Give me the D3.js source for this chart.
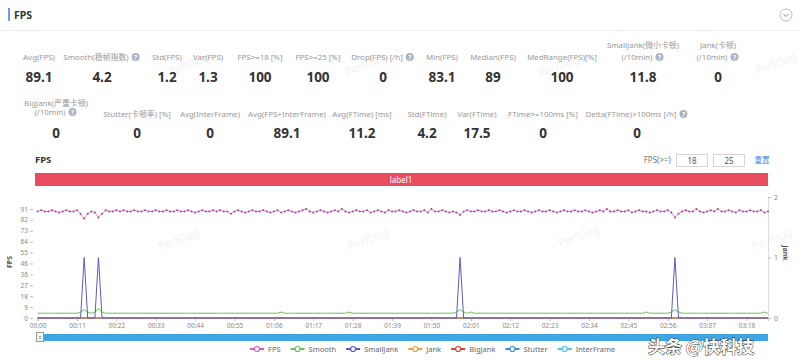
<!DOCTYPE html>
<html><head><meta charset="utf-8">
<script src="https://cdn.jsdelivr.net/npm/d3@7/dist/d3.min.js"></script>
<style>
html,body{margin:0;padding:0;background:#fff;}
svg{display:block;font-family:"Noto Sans","Noto Sans CJK SC",sans-serif;}
</style></head>
<body>
<svg id="c" width="800" height="360"></svg>
<script>
// ---------- DATA ----------
const statLabelsRow1 = ["Avg(FPS)","Smooth(稳帧指数)","Std(FPS)","Var(FPS)","FPS>=18 [%]","FPS>=25 [%]","Drop(FPS) [/h]","Min(FPS)","Median(FPS)","MedRange(FPS)[%]","SmallJank(微小卡顿)|(/10min)","Jank(卡顿)|(/10min)"];
const statValuesRow1 = ["89.1","4.2","1.2","1.3","100","100","0","83.1","89","100","11.8","0"];
const statHelpRow1 = [false,true,false,false,false,false,true,false,false,false,true,true];
const statLabelsRow2 = ["BigJank(严重卡顿)|(/10min)","Stutter(卡顿率) [%]","Avg(InterFrame)","Avg(FPS+InterFrame)","Avg(FTime) [ms]","Std(FTime)","Var(FTime)","FTime>=100ms [%]","Delta(FTime)>100ms [/h]"];
const statValuesRow2 = ["0","0","0","89.1","11.2","4.2","17.5","0","0"];
const statHelpRow2 = [true,false,false,false,false,false,false,false,true];

const xTickSeconds = [0,11,22,33,44,55,66,77,88,99,110,121,132,143,154,165,176,187,198];
const xTickLabels = ["00:00","00:11","00:22","00:33","00:44","00:55","01:06","01:17","01:28","01:39","01:50","02:01","02:12","02:23","02:34","02:45","02:56","03:07","03:18"];
const yLeftTicks = [0,9.1,18.2,27.3,36.4,45.5,54.6,63.7,72.8,81.9,91];
const yLeftLabels = ["0","9","18","27","36","46","55","64","73","82","91"];
const yRightTicks = [0,1,2];

const fps = [
89,90,89,89,90,89,88,89,90,89,
89,90,87,83.1,87,89,88,84,87,90,
89,89,90,89,90,89,89,90,89,89,
90,89,89,90,89,89,90,89,89,90,
89,89,90,89,88,89,90,89,89,90,
89,90,89,89,87,89,90,89,88,89,
90,89,89,90,89,88,89,90,88,89,
90,89,88,89,90,91,89,88,89,90,
89,88,89,90,89,91,89,88,89,90,
89,89,90,88,89,90,89,88,90,89,
89,90,89,88,89,90,89,89,90,88,
91,89,89,90,89,88,89,88,86,89,
90,89,89,90,89,89,90,89,89,90,
89,88,89,90,89,89,90,89,88,89,
90,89,89,90,89,88,89,90,89,89,
90,89,89,90,89,88,89,90,89,91,
89,89,90,89,89,90,88,89,90,89,
89,88,89,90,89,89,90,88,84,87,
89,90,89,89,91,89,88,89,90,89,
91,89,89,90,89,88,90,89,89,90,
89,89,90,88,89];
const smooth = [
4,4,4,4,4,4,4,4,4,4,
4,4,5,7,5,4,5,8,5,4,
4,4,4,4,4,4,4,4,4,4,
4,4,4,4,4,4,4,4,4,4,
4,4,4,4,4,4,4,4,4,4,
4,4,4,4,4,4,4,4,4,4,
4,4,4,4,4,4,4,4,5,4,
4,4,4,4,4,4,4,4,4,4,
4,4,4,4,4,4,4,5,4,4,
4,4,4,4,4,4,4,4,4,4,
4,4,4,4,4,4,4,4,4,4,
4,4,4,4,4,4,4,5,7,5,
4,5,4,4,4,4,4,4,4,4,
4,4,4,4,4,4,4,4,4,4,
4,4,4,4,4,4,4,4,4,4,
4,4,4,4,4,4,4,4,4,4,
4,4,4,4,4,4,4,4,4,4,
5,4,4,4,4,4,4,5,7,5,
4,4,4,4,4,4,4,4,4,4,
4,4,4,4,4,4,4,4,4,4,
4,4,4,5,4];
const smallJank = [
0,0,0,0,0,0,0,0,0,0, 0,0,0,1,0,0,0,1,0,0,
0,0,0,0,0,0,0,0,0,0, 0,0,0,0,0,0,0,0,0,0,
0,0,0,0,0,0,0,0,0,0, 0,0,0,0,0,0,0,0,0,0,
0,0,0,0,0,0,0,0,0,0, 0,0,0,0,0,0,0,0,0,0,
0,0,0,0,0,0,0,0,0,0, 0,0,0,0,0,0,0,0,0,0,
0,0,0,0,0,0,0,0,0,0, 0,0,0,0,0,0,0,0,1,0,
0,0,0,0,0,0,0,0,0,0, 0,0,0,0,0,0,0,0,0,0,
0,0,0,0,0,0,0,0,0,0, 0,0,0,0,0,0,0,0,0,0,
0,0,0,0,0,0,0,0,0,0, 0,0,0,0,0,0,0,0,1,0,
0,0,0,0,0,0,0,0,0,0, 0,0,0,0,0,0,0,0,0,0,
0,0,0,0,0];
const zeroSeries = [
0,0,0,0,0,0,0,0,0,0, 0,0,0,0,0,0,0,0,0,0,
0,0,0,0,0,0,0,0,0,0, 0,0,0,0,0,0,0,0,0,0,
0,0,0,0,0,0,0,0,0,0, 0,0,0,0,0,0,0,0,0,0,
0,0,0,0,0,0,0,0,0,0, 0,0,0,0,0,0,0,0,0,0,
0,0,0,0,0,0,0,0,0,0, 0,0,0,0,0,0,0,0,0,0,
0,0,0,0,0,0,0,0,0,0, 0,0,0,0,0,0,0,0,0,0,
0,0,0,0,0,0,0,0,0,0, 0,0,0,0,0,0,0,0,0,0,
0,0,0,0,0,0,0,0,0,0, 0,0,0,0,0,0,0,0,0,0,
0,0,0,0,0,0,0,0,0,0, 0,0,0,0,0,0,0,0,0,0,
0,0,0,0,0,0,0,0,0,0, 0,0,0,0,0,0,0,0,0,0,
0,0,0,0,0];
const jank = zeroSeries, bigJank = zeroSeries, stutter = zeroSeries, interFrame = zeroSeries;
const legendNames = ["FPS","Smooth","SmallJank","Jank","BigJank","Stutter","InterFrame"];

// ---------- LAYOUT / STYLE ----------
const colors = {FPS:"#d65cb9",Smooth:"#6cbf5a",SmallJank:"#5a5cc4",Jank:"#f0a040",BigJank:"#d9443c",Stutter:"#3d8ed6",InterFrame:"#4fc3e8"};
const row1X = [39,102,167,208,260,318,383,442,493,562,643,718];
const row2X = [56,137,210,287,362,427,477,543,637];
const svg = d3.select("#c");
const F = '"Noto Sans","Noto Sans CJK SC",sans-serif';

// watermarks (faint)
[[180,243],[370,243],[580,240],[773,243],[777,67],[367,68],[560,70],[190,68]].forEach(p=>{
  svg.append("text").attr("transform",`translate(${p[0]},${p[1]}) rotate(-20)`)
   .attr("text-anchor","middle").attr("font-size",11).attr("fill","#000").attr("opacity",0.05).text("PerfDog");
});

// header
svg.append("rect").attr("x",8).attr("y",8).attr("width",2).attr("height",13).attr("fill","#6a9cf0");
svg.append("text").attr("x",14).attr("y",19).attr("font-size",10.5).attr("font-weight","bold").attr("fill","#333").text("FPS");
svg.append("line").attr("x1",0).attr("x2",800).attr("y1",30.5).attr("y2",30.5).attr("stroke","#eee");
svg.append("circle").attr("cx",786).attr("cy",15).attr("r",6).attr("fill","#fff").attr("stroke","#bbb");
svg.append("path").attr("d","M783.5,14 L786,16.5 L788.5,14").attr("fill","none").attr("stroke","#888").attr("stroke-width",1);

function helpIcon(g,x,y){
  g.append("circle").attr("cx",x).attr("cy",y).attr("r",4).attr("fill","#a9b3c6");
  g.append("text").attr("x",x).attr("y",y+2.6).attr("text-anchor","middle").attr("font-size",6.5).attr("font-weight","bold").attr("fill","#fff").text("?");
}
function labelLine(x,y,txt,help){
  const g = svg.append("g");
  const t = g.append("text").attr("y",y).attr("font-size",7.9).attr("fill","#999").text(txt);
  const w = t.node().getComputedTextLength();
  const total = w + (help?12:0);
  const x0 = x-total/2;
  t.attr("x",x0);
  if(help) helpIcon(g,x0+w+7,y-3);
}
function drawStats(labels,values,helps,xs,labelY,valueY,twoLineY){
  labels.forEach((lab,i)=>{
    const parts = lab.split("|");
    if(parts.length===2){
      labelLine(xs[i],twoLineY[0],parts[0],false);
      labelLine(xs[i],twoLineY[1],parts[1],helps[i]);
    } else labelLine(xs[i],labelY,parts[0],helps[i]);
    svg.append("text").attr("x",xs[i]).attr("y",valueY).attr("text-anchor","middle")
      .attr("font-size",13.5).attr("font-weight","bold").attr("fill","#333").text(values[i]);
  });
}
drawStats(statLabelsRow1,statValuesRow1,statHelpRow1,row1X,60,82,[48,60]);
drawStats(statLabelsRow2,statValuesRow2,statHelpRow2,row2X,117,138,[106,115]);

// chart header
svg.append("text").attr("x",35).attr("y",163).attr("font-size",9.5).attr("font-weight","bold").attr("fill","#333").text("FPS");
svg.append("text").attr("x",671).attr("y",163).attr("text-anchor","end").attr("font-size",8).attr("fill","#777").text("FPS(>=)");
[[676,"18"],[713,"25"]].forEach(b=>{
  svg.append("rect").attr("x",b[0]+0.5).attr("y",154.5).attr("width",31).attr("height",12).attr("fill","#fff").attr("stroke","#d6d6d6");
  svg.append("text").attr("x",b[0]+16).attr("y",163.5).attr("text-anchor","middle").attr("font-size",8).attr("fill","#555").text(b[1]);
});
svg.append("text").attr("x",762).attr("y",163).attr("text-anchor","middle").attr("font-size",7.5).attr("fill","#3a86e0").text("重置");

// label band
svg.append("rect").attr("x",35).attr("y",173).attr("width",733).attr("height",13).attr("fill","#e94b5f");
svg.append("text").attr("x",401).attr("y",182.5).attr("text-anchor","middle").attr("font-size",8).attr("fill","#fff").text("label1");

// scales
const N = fps.length;
const x = d3.scaleLinear().domain([0,N-1]).range([37.6,768]);
const yL = d3.scaleLinear().domain([0,91]).range([318,209]);
const yR = d3.scaleLinear().domain([0,2]).range([318,197]);

// axes
const axL = svg.append("g").attr("transform","translate(33,0)")
  .call(d3.axisLeft(yL).tickValues(yLeftTicks).tickFormat((d,i)=>yLeftLabels[i]).tickSize(3).tickPadding(2));
axL.select(".domain").remove();
axL.selectAll("line").attr("stroke","#bbb");
axL.selectAll("text").attr("font-size",6.5).attr("fill","#888").attr("font-family",F);

const axR = svg.append("g").attr("transform","translate(768,0)")
  .call(d3.axisRight(yR).tickValues(yRightTicks).tickFormat(d3.format("d")).tickSize(3).tickPadding(3));
axR.select(".domain").attr("stroke","#ddd");
axR.selectAll("line").attr("stroke","#bbb");
axR.selectAll("text").attr("font-size",7).attr("fill","#888").attr("font-family",F);

const axB = svg.append("g").attr("transform","translate(0,318)")
  .call(d3.axisBottom(x).tickValues(xTickSeconds).tickFormat((d,i)=>xTickLabels[i]).tickSize(3).tickPadding(2));
axB.select(".domain").attr("stroke","#ccc");
axB.selectAll("line").attr("stroke","#bbb");
axB.selectAll("text").attr("font-size",6.5).attr("fill","#888").attr("font-family",F);

svg.append("text").attr("transform","translate(12,262) rotate(-90)").attr("text-anchor","middle").attr("font-size",7).attr("font-weight","bold").attr("fill","#555").text("FPS");
svg.append("text").attr("transform","translate(783,253) rotate(90)").attr("text-anchor","middle").attr("font-size",7).attr("font-weight","bold").attr("fill","#555").text("Jank");

// lines
const idx = d3.range(N);
function drawLine(vals,scale,color,w){
  svg.append("path").datum(idx).attr("fill","none").attr("stroke",color).attr("stroke-width",w)
    .attr("d",d3.line().x(i=>x(i)).y(i=>scale(vals[i])));
}
drawLine(interFrame,yL,colors.InterFrame,1.5);
drawLine(stutter,yL,colors.Stutter,1);
drawLine(bigJank,yR,colors.BigJank,1);
drawLine(jank,yR,colors.Jank,1);
drawLine(smooth,yL,colors.Smooth,1);
drawLine(smallJank,yR,colors.SmallJank,1);
drawLine(fps,yL,"#e48ad0",1);
svg.append("g").selectAll("circle").data(idx).join("circle")
  .attr("cx",i=>x(i)).attr("cy",i=>yL(fps[i])).attr("r",1).attr("fill","#a7439a");

// slider
svg.append("rect").attr("x",37).attr("y",334).attr("width",731).attr("height",7).attr("fill","#3fa6e6");
svg.append("rect").attr("x",36.5).attr("y",332.5).attr("width",7).attr("height",9).attr("fill","#f4f4f4").attr("stroke","#999");
svg.append("line").attr("x1",39).attr("x2",41).attr("y1",336.5).attr("y2",336.5).attr("stroke","#999");
svg.append("line").attr("x1",39).attr("x2",41).attr("y1",338.5).attr("y2",338.5).attr("stroke","#999");

// legend
let lx = 250;
legendNames.forEach(n=>{
  const g = svg.append("g");
  g.append("line").attr("x1",lx).attr("x2",lx+14).attr("y1",349).attr("y2",349).attr("stroke",colors[n]).attr("stroke-width",2);
  g.append("circle").attr("cx",lx+7).attr("cy",349).attr("r",2.5).attr("fill","#fff").attr("stroke",colors[n]).attr("stroke-width",1.2);
  const t = g.append("text").attr("x",lx+18).attr("y",352).attr("font-size",7.5).attr("fill","#666").text(n);
  lx += 18 + t.node().getComputedTextLength() + 10;
});

// site watermark (kept just below the time labels)
svg.append("text").attr("x",648).attr("y",353).attr("font-size",17).attr("font-weight","bold")
  .attr("font-family",'"Noto Sans CJK SC",sans-serif').attr("fill","#fff").attr("stroke","#222").attr("stroke-width",0.9)
  .attr("paint-order","stroke").text("头条 @快科技");
</script>
</body></html>
